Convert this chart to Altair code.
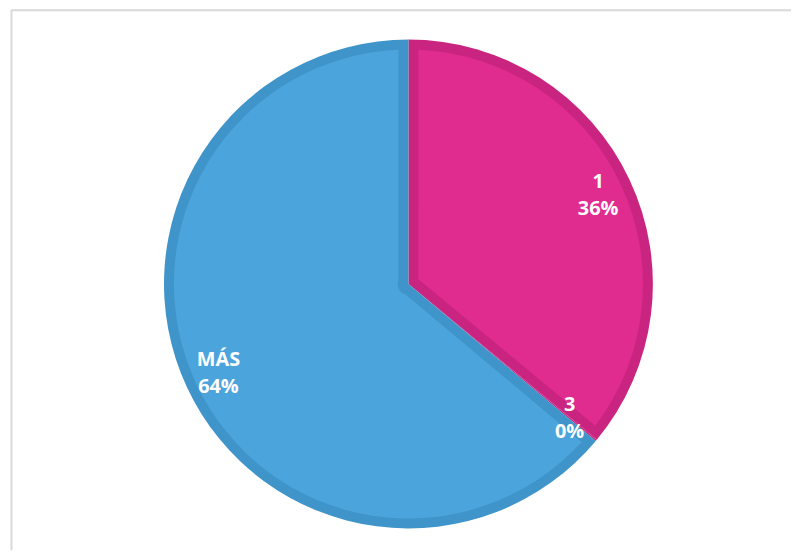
import math
import altair as alt
import pandas as pd

categories = ["1", "3", "MÁS"]
values = [36.0, 0.1, 63.9]
dark_colors = ["#C92580", "#C92580", "#3F94CA"]
light_colors = ["#E02B8F", "#E02B8F", "#4CA4DC"]

total = sum(values)
df = pd.DataFrame({
    "cat": categories,
    "value": values,
    "idx": list(range(len(categories))),
    "label": [f"{c}\n{round(v / total * 100)}%" for c, v in zip(categories, values)],
})

W, H = 788, 544
CX, CY = 403, 276
R_OUT = 246
BORDER = 10
R_IN = R_OUT - BORDER
R0 = 11
rp = math.sqrt(R0 ** 2 + R_IN ** 2)
PAD = 2 * math.asin(BORDER / rp)

base = alt.Chart(df).encode(
    theta=alt.Theta("value:Q", stack=True),
    order=alt.Order("idx:Q"),
    x=alt.value(CX),
    y=alt.value(CY),
)

dark = base.mark_arc(outerRadius=R_OUT, stroke=None).encode(
    color=alt.Color("cat:N", scale=alt.Scale(domain=categories, range=dark_colors), legend=None)
)
light = base.mark_arc(outerRadius=R_IN, innerRadius=R0, padAngle=PAD, stroke=None).encode(
    fill=alt.Fill("cat:N", scale=alt.Scale(domain=categories, range=light_colors), legend=None)
)
labels = base.mark_text(
    radius=211, dy=-13, font="Open Sans", fontSize=20, fontWeight="bold", color="white",
    lineBreak="\n", lineHeight=27, align="center", baseline="middle",
).encode(text="label:N")

frame_data = alt.Data(values=[{"a": 1}])
frame_left = alt.Chart(frame_data).mark_rule(color="#D9D9D9", strokeWidth=2).encode(
    x=alt.value(3.5), y=alt.value(0), y2=alt.value(H)
)
frame_top = alt.Chart(frame_data).mark_rule(color="#D9D9D9", strokeWidth=2).encode(
    x=alt.value(3.5), x2=alt.value(W), y=alt.value(0.5)
)

chart = alt.layer(frame_left, frame_top, dark, light, labels).resolve_scale(
    color="independent", fill="independent"
).properties(
    width=W, height=H, padding=0, autosize=alt.AutoSizeParams(type="none"),
    background="white",
).configure_view(stroke=None)

chart.save("out.html", embed_options={"renderer": "svg", "actions": False})
